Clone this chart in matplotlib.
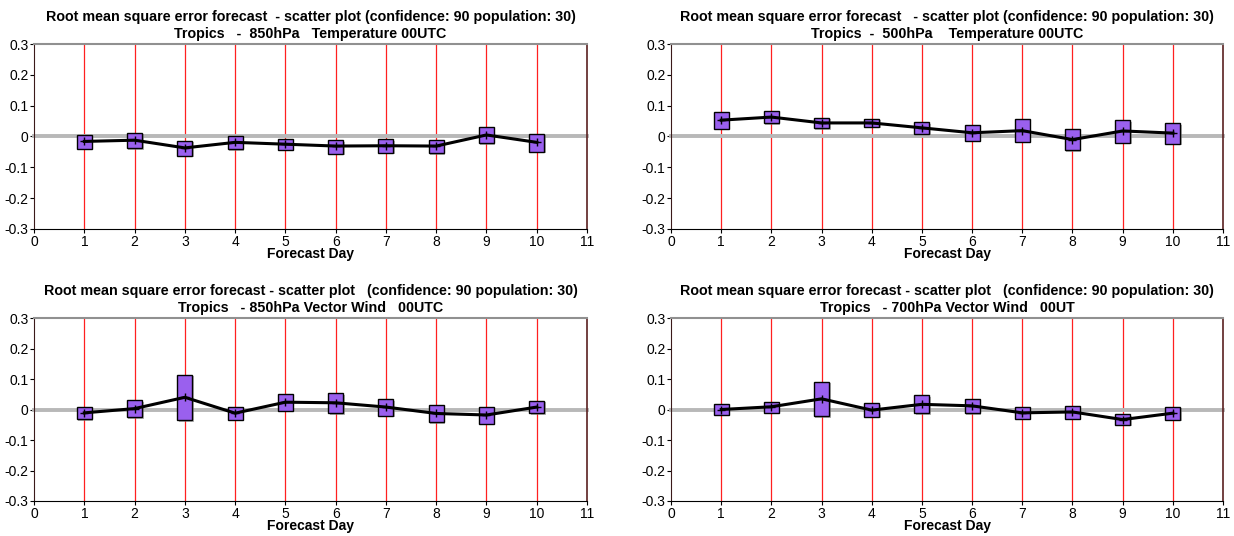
import matplotlib.pyplot as plt
import matplotlib.patheffects as pe
from matplotlib.patches import Rectangle

plt.rcParams['font.family'] = ['Liberation Sans', 'DejaVu Sans']

days = [1, 2, 3, 4, 5, 6, 7, 8, 9, 10]

# mean values and confidence box (upper, lower) per panel
t850_mean = [-0.016, -0.012, -0.037, -0.019, -0.025, -0.031, -0.030, -0.031, 0.005, -0.019]
t850_hi = [0.005, 0.012, -0.014, 0.001, -0.008, -0.012, -0.009, -0.012, 0.030, 0.009]
t850_lo = [-0.040, -0.038, -0.062, -0.041, -0.043, -0.056, -0.053, -0.054, -0.022, -0.049]

t500_mean = [0.053, 0.063, 0.044, 0.044, 0.028, 0.012, 0.019, -0.010, 0.018, 0.011]
t500_hi = [0.079, 0.082, 0.061, 0.057, 0.046, 0.037, 0.056, 0.025, 0.053, 0.043]
t500_lo = [0.024, 0.043, 0.026, 0.032, 0.008, -0.014, -0.018, -0.045, -0.021, -0.024]

w850_mean = [-0.011, 0.003, 0.040, -0.012, 0.024, 0.022, 0.008, -0.013, -0.018, 0.008]
w850_hi = [0.007, 0.030, 0.114, 0.007, 0.050, 0.053, 0.034, 0.015, 0.007, 0.028]
w850_lo = [-0.032, -0.026, -0.036, -0.034, -0.004, -0.012, -0.021, -0.042, -0.046, -0.012]

w700_mean = [0.000, 0.009, 0.035, -0.002, 0.017, 0.012, -0.011, -0.008, -0.033, -0.012]
w700_hi = [0.017, 0.026, 0.091, 0.020, 0.046, 0.036, 0.008, 0.013, -0.016, 0.009]
w700_lo = [-0.017, -0.011, -0.022, -0.024, -0.012, -0.012, -0.030, -0.030, -0.051, -0.034]

titles = [
    "Root mean square error forecast  - scatter plot (confidence: 90 population: 30)\n"
    "Tropics   -  850hPa   Temperature 00UTC",
    "Root mean square error forecast   - scatter plot (confidence: 90 population: 30)\n"
    "Tropics  -  500hPa    Temperature 00UTC",
    "Root mean square error forecast - scatter plot   (confidence: 90 population: 30)\n"
    "Tropics   - 850hPa Vector Wind   00UTC",
    "Root mean square error forecast - scatter plot   (confidence: 90 population: 30)\n"
    "Tropics   - 700hPa Vector Wind   00UT",
]

panels = [
    (t850_mean, t850_hi, t850_lo),
    (t500_mean, t500_hi, t500_lo),
    (w850_mean, w850_hi, w850_lo),
    (w700_mean, w700_hi, w700_lo),
]

fig = plt.figure(figsize=(12.34, 5.36), dpi=100)
rects = [
    [0.0276, 0.5728, 0.4481, 0.3451],
    [0.5438, 0.5728, 0.4473, 0.3451],
    [0.0276, 0.0653, 0.4481, 0.3414],
    [0.5438, 0.0653, 0.4473, 0.3414],
]

box_w = 0.3
for i, (mean, hi, lo) in enumerate(panels):
    ax = fig.add_axes(rects[i])
    ax.set_xlim(0, 11)
    ax.set_ylim(-0.3, 0.3)

    # vertical red grid at each day
    for d in days:
        ax.axvline(d, color='#ff2020', linewidth=0.9, zorder=1)
    ax.axhline(0, color='#b8b8b8', linewidth=2.8, zorder=2, clip_on=False)

    for d, h, l in zip(days, hi, lo):
        r = Rectangle((d - box_w / 2, l), box_w, h - l,
                      facecolor='#9a60ee', edgecolor='black', linewidth=1.0, zorder=3)
        r.set_path_effects([pe.SimplePatchShadow(offset=(1, -1), shadow_rgbFace='#808080', alpha=0.6),
                            pe.Normal()])
        ax.add_patch(r)

    ax.plot(days, mean, color='black', linewidth=2.2, marker='+', markersize=6,
            markeredgewidth=1.0, zorder=4)

    ax.set_xticks(range(0, 12))
    ax.set_yticks([-0.3, -0.2, -0.1, 0, 0.1, 0.2, 0.3])
    ax.set_yticklabels(['-0.3', '-0.2', '-0.1', '0', '0.1', '0.2', '0.3'])
    ax.tick_params(axis='both', labelsize=10, length=3, width=0.8, pad=1)
    ax.set_xlabel('Forecast Day', fontsize=10, fontweight='bold', labelpad=-1)
    ax.set_title(titles[i], fontsize=10.3, fontweight='bold', pad=4, linespacing=1.35)

    ax.spines['top'].set_color('#909090')
    ax.spines['top'].set_linewidth(1.5)
    ax.spines['left'].set_color('#3a1a1a')
    ax.spines['bottom'].set_color('black')
    ax.spines['right'].set_color('#5a2020')
    ax.spines['right'].set_linewidth(1.2)

fig.savefig('out.png', dpi=100)
